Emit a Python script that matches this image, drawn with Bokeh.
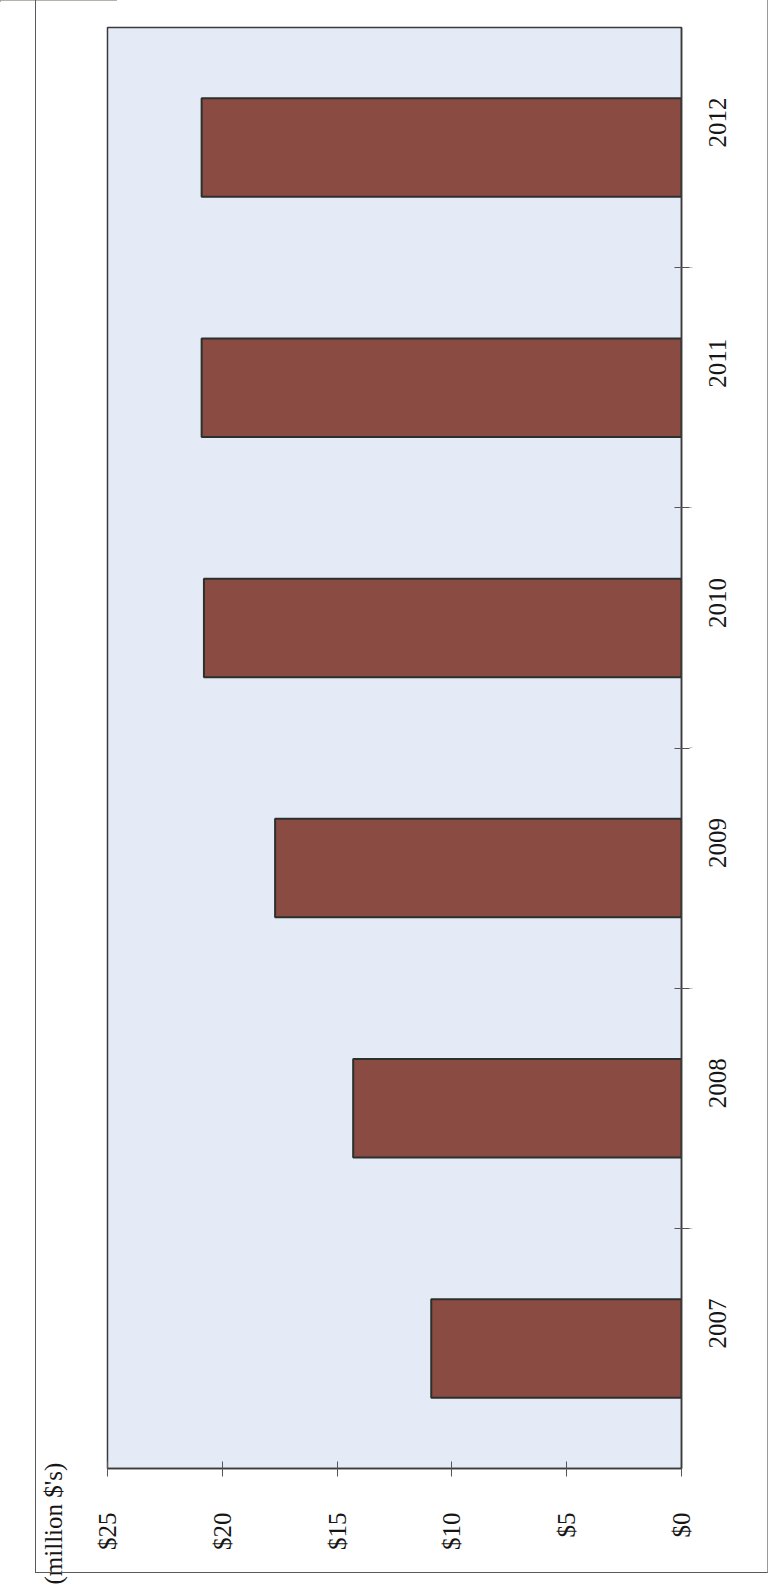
from math import pi

from bokeh.embed import file_html
from bokeh.models import (CategoricalAxis, ColumnDataSource, FactorRange, FixedTicker,
                          InlineStyleSheet, Range1d, Title)
from bokeh.plotting import figure
from bokeh.resources import INLINE

# Annual amounts, million dollars
years = ["2007", "2008", "2009", "2010", "2011", "2012"]
amounts = [10.9, 14.3, 17.7, 20.8, 20.9, 20.9]

value_ticks = [0, 5, 10, 15, 20, 25]
value_tick_labels = ["$0", "$5", "$10", "$15", "$20", "$25"]
unit_note = "(million $'s)"

FONT = "Liberation Serif"
FONT_SIZE = "25px"
INK = "#161616"
W, H = 769, 1591

source = ColumnDataSource(data=dict(year=years, amount=amounts))

# page frame drawn around the chart area
page_frame = InlineStyleSheet(css="""
:host { position: relative; }
:host::after {
  content: ""; position: absolute; pointer-events: none;
  left: 35px; top: -4px; width: 733px; height: 1577px;
  box-sizing: border-box;
  border-left: 1.5px solid #5a5a5a; border-right: 1.5px solid #9a9a9a;
  border-bottom: 1.5px solid #5a5a5a;
}
:host::before {
  content: ""; position: absolute; pointer-events: none;
  left: 0px; top: 0px; width: 117px; height: 2px; background: #9a9a90;
}
""")

p = figure(
    width=W, height=H,
    output_backend="svg", toolbar_location=None,
    y_range=FactorRange(*years),
    x_range=Range1d(value_ticks[-1], value_ticks[0]),
    y_axis_location="right",
    min_border_left=87, min_border_right=88,
    min_border_top=27, min_border_bottom=123,
    stylesheets=[page_frame],
)

p.background_fill_color = "#e4ebf7"
p.border_fill_color = "white"
p.outline_line_color = "#3a3a3a"
p.outline_line_width = 1.5
p.xgrid.visible = False
p.ygrid.visible = False

p.hbar(y="year", left=0, right="amount", height=0.41, source=source,
       fill_color="#8a4b42", line_color="#2c302c", line_width=2)

# value axis (bottom), labels read bottom-to-top
xa = p.xaxis[0]
xa.ticker = FixedTicker(ticks=value_ticks)
xa.major_label_overrides = {t: s for t, s in zip(value_ticks, value_tick_labels)}
xa.major_label_orientation = pi / 2
xa.major_label_text_font = FONT
xa.major_label_text_font_size = FONT_SIZE
xa.major_label_text_color = INK
xa.major_label_standoff = 36
xa.major_tick_in = 7
xa.major_tick_out = 8
xa.minor_tick_line_color = None
xa.axis_line_color = "#3a3a3a"
xa.axis_line_width = 1.5
xa.major_tick_line_color = "#555555"

# category axis: tick marks at the boundaries between years
# (one extra slot, shifted half a step so its centres fall on the boundaries)
edges = [f"edge{i}" for i in range(len(years) + 1)]
p.extra_y_ranges = {"edges": FactorRange(factors=edges, range_padding=-0.5,
                                         range_padding_units="absolute")}
edge_axis = CategoricalAxis(y_range_name="edges",
                            major_label_overrides={e: " " for e in edges},
                            major_label_text_font_size="1px",
                            major_label_standoff=0,
                            major_tick_in=7, major_tick_out=8,
                            axis_line_color="#3a3a3a", axis_line_width=1.5,
                            major_tick_line_color="#555555")

ya = p.yaxis[0]
ya.axis_line_color = None
ya.major_tick_line_color = None
ya.major_tick_out = 0
ya.major_tick_in = 0
ya.major_label_orientation = pi / 2
ya.major_label_text_font = FONT
ya.major_label_text_font_size = FONT_SIZE
ya.major_label_text_color = INK
ya.major_label_standoff = 22

p.right = [edge_axis, ya]

# unit note at the lower left, outside the page frame, reading bottom-to-top
p.add_layout(Title(text=unit_note, align="left", vertical_align="top",
                   offset=-116, standoff=78,
                   text_font=FONT, text_font_size=FONT_SIZE,
                   text_font_style="normal", text_color=INK), "left")

open("out.html", "w").write(file_html(p, INLINE))
